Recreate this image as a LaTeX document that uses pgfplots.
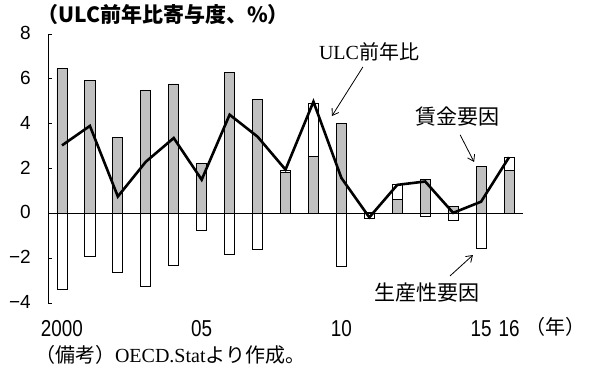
\documentclass[border=0pt]{standalone}
\usepackage{pgfplots}
\pgfplotsset{compat=1.18}
\usepackage{pgfplotstable}
\usepackage{fontspec}
\setmainfont{Liberation Serif}
\newfontfamily\cjk{Noto Sans CJK JP}
\newfontfamily\numfont{Liberation Sans}
\newfontfamily\yearfont{Liberation Sans}[FakeStretch=0.82]
\usetikzlibrary{arrows.meta}
\definecolor{wagegray}{RGB}{192,192,192}

% ULC growth (%) and its contributions: wage factor and productivity factor
\pgfplotstableread{
idx wage prod ulc
0  6.45 -3.38  3.03
1  5.93 -1.93  3.90
2  3.40 -2.63  0.75
3  5.48 -3.24  2.30
4  5.77 -2.31  3.36
5  2.22 -0.77  1.50
6  6.30 -1.85  4.40
7  5.08 -1.63  3.42
8  1.82  0.10  1.95
9  2.54  2.38  4.98
10 4.00 -2.38  1.58
11 0.02 -0.22 -0.18
12 0.60  0.70  1.27
13 1.53 -0.14  1.42
14 0.30 -0.32  0.02
15 2.09 -1.55  0.52
16 1.91  0.57  2.50
}\ulcdata

\begin{document}
\begin{tikzpicture}
\useasboundingbox (-48bp,-74bp) rectangle (546bp,303bp);
\begin{axis}[
  scale only axis, width=475bp, height=269bp,
  xmin=-0.5, xmax=16.5, ymin=-4, ymax=8,
  axis lines=left,
  x axis line style={draw=none},
  y axis line style={-, line width=0.8bp},
  xtick={0,5,10,15,16},
  xticklabels={2000,05,10,15,16},
  xtick style={draw=none},
  ytick={-4,-2,0,2,4,6,8},
  yticklabels={−4,−2,0,2,4,6,8},
  tick align=inside,
  major tick length=4bp,
  ytick style={line width=0.8bp, black},
  xticklabel style={font=\yearfont\fontsize{23bp}{23bp}\selectfont, anchor=base, inner sep=0pt, yshift=-33bp},
  yticklabel style={font=\numfont\fontsize{19bp}{19bp}\selectfont, anchor=east, inner sep=0pt, xshift=-17bp, yshift=1bp},
  clip=false,
]
% productivity factor: stacked above the wage bar when positive, below zero when negative
\addplot[ybar, bar width=0.36, bar shift=0pt, fill=white, draw=black, line width=0.8bp]
  table[x=idx, y expr={\thisrow{prod}>0 ? \thisrow{wage}+\thisrow{prod} : \thisrow{prod}}] {\ulcdata};
% wage factor
\addplot[ybar, bar width=0.36, bar shift=0pt, fill=wagegray, draw=black, line width=0.8bp]
  table[x=idx, y=wage] {\ulcdata};
\draw[line width=0.8bp] (axis cs:-0.5,0) -- (axis cs:16.5,0);
% ULC year-on-year
\addplot[sharp plot, black, line width=2.6bp, mark=none] table[x=idx, y=ulc] {\ulcdata};

\node[font=\fontsize{20bp}{20bp}\selectfont] at (axis cs:10.99,7.2) {ULC{\cjk 前年比}};
\draw[-{Straight Barb[length=6bp,width=8bp]}, line width=0.8bp] (axis cs:10.77,6.53) -- (axis cs:9.66,4.34);
\node[font=\cjk\fontsize{21bp}{21bp}\selectfont] at (axis cs:14.14,4.34) {賃金要因};
\draw[-{Straight Barb[length=6bp,width=8bp]}, line width=0.8bp] (axis cs:14.25,3.5) -- (axis cs:14.75,2.29);
\node[font=\cjk\fontsize{21bp}{21bp}\selectfont] at (axis cs:13.06,-3.55) {生産性要因};
\draw[-{Straight Barb[length=6bp,width=8bp]}, line width=0.8bp] (axis cs:13.89,-2.79) -- (axis cs:14.71,-1.86);

\node[font=\cjk\bfseries\fontsize{21bp}{21bp}\selectfont] at (axis cs:3.62,8.85) {（ULC前年比寄与度、\%）};
\node[font=\cjk\fontsize{20bp}{20bp}\selectfont] at (axis cs:17.68,-5.07) {（年）};
\node[font=\fontsize{20bp}{20bp}\selectfont] at (axis cs:3.87,-6.32) {{\cjk （備考）}OECD.Stat{\cjk より作成。}};
\end{axis}
\end{tikzpicture}
\end{document}
